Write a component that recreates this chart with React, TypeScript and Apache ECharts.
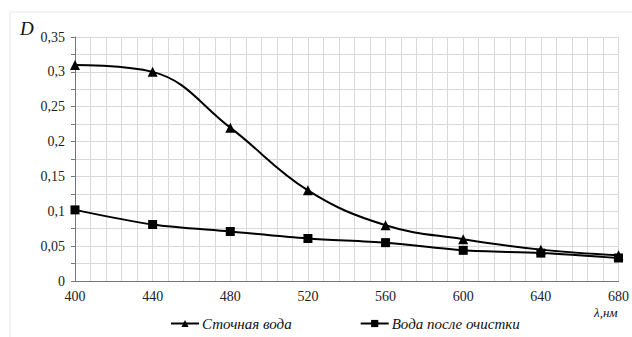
import React, { useEffect, useRef } from "react";
import * as echarts from "echarts";

const wavelengths = [400, 440, 480, 520, 560, 600, 640, 680];
const wasteWater = [0.31, 0.3, 0.22, 0.13, 0.08, 0.06, 0.045, 0.037];
const cleanWater = [0.102, 0.081, 0.071, 0.061, 0.055, 0.044, 0.04, 0.033];
const seriesNames = ["Сточная вода", "Вода после очистки"];

const FONT = "Liberation Serif, Times New Roman, serif";

export default function App() {
  const ref = useRef<HTMLDivElement>(null);
  useEffect(() => {
    if (!ref.current) return;
    const chart = echarts.init(ref.current, null, { renderer: "svg" });
    chart.setOption({
      animation: false,
      backgroundColor: "#fff",
      textStyle: { fontFamily: FONT },
      graphic: [
        {
          type: "rect",
          shape: { x: 10, y: 12, width: 640, height: 340 },
          style: { fill: "none", stroke: "#e6e6e6", lineWidth: 1 },
          silent: true,
        },
        {
          type: "text",
          left: 20,
          top: 19,
          style: { text: "D", fontFamily: FONT, fontStyle: "italic", fontSize: 19, fill: "#111" },
        },
        {
          type: "text",
          left: 594,
          top: 306,
          style: { text: "λ,нм", fontFamily: FONT, fontStyle: "italic", fontSize: 13, fill: "#111" },
        },
      ],
      grid: { left: 75, right: 12, top: 37, bottom: 56 },
      legend: {
        left: 165,
        top: 311,
        itemGap: 68,
        itemWidth: 28,
        itemHeight: 9,
        textStyle: { fontFamily: FONT, fontStyle: "italic", fontSize: 15, color: "#111", padding: [0, 0, 0, -2] },
        data: seriesNames,
      },
      xAxis: {
        type: "value",
        min: 400,
        max: 680,
        interval: 40,
        minorTick: { show: false, splitNumber: 5 },
        minorSplitLine: { show: true, lineStyle: { color: "#d9d9d9", width: 1 } },
        splitLine: { show: true, lineStyle: { color: "#d9d9d9", width: 1 } },
        axisLine: { lineStyle: { color: "#777", width: 1 } },
        axisTick: { show: false },
        axisLabel: { fontFamily: FONT, fontSize: 14, color: "#222", margin: 8 },
      },
      yAxis: {
        type: "value",
        min: 0,
        max: 0.35,
        interval: 0.05,
        minorTick: { show: true, splitNumber: 2, length: 4, lineStyle: { color: "#777" } },
        minorSplitLine: { show: true, lineStyle: { color: "#d9d9d9", width: 1 } },
        splitLine: { show: true, lineStyle: { color: "#d9d9d9", width: 1 } },
        axisLine: { show: true, lineStyle: { color: "#777", width: 1 } },
        axisTick: { show: true, length: 4, lineStyle: { color: "#777" } },
        axisLabel: {
          fontFamily: FONT,
          fontSize: 14,
          color: "#222",
          margin: 10,
          formatter: (v: number) => String(Math.round(v * 1000) / 1000).replace(".", ","),
        },
      },
      series: [
        {
          name: seriesNames[0],
          type: "line",
          smooth: 0.4,
          data: wavelengths.map((x, i) => [x, wasteWater[i]]),
          symbol: "triangle",
          symbolSize: 10,
          lineStyle: { color: "#000", width: 2 },
          itemStyle: { color: "#000" },
        },
        {
          name: seriesNames[1],
          type: "line",
          smooth: 0.3,
          data: wavelengths.map((x, i) => [x, cleanWater[i]]),
          symbol: "rect",
          symbolSize: 9,
          lineStyle: { color: "#000", width: 2 },
          itemStyle: { color: "#000" },
        },
      ],
    });
    return () => chart.dispose();
  }, []);
  return (
    <div
      ref={ref}
      style={{ position: "fixed", left: 0, top: 0, width: 632, height: 337 }}
    />
  );
}
